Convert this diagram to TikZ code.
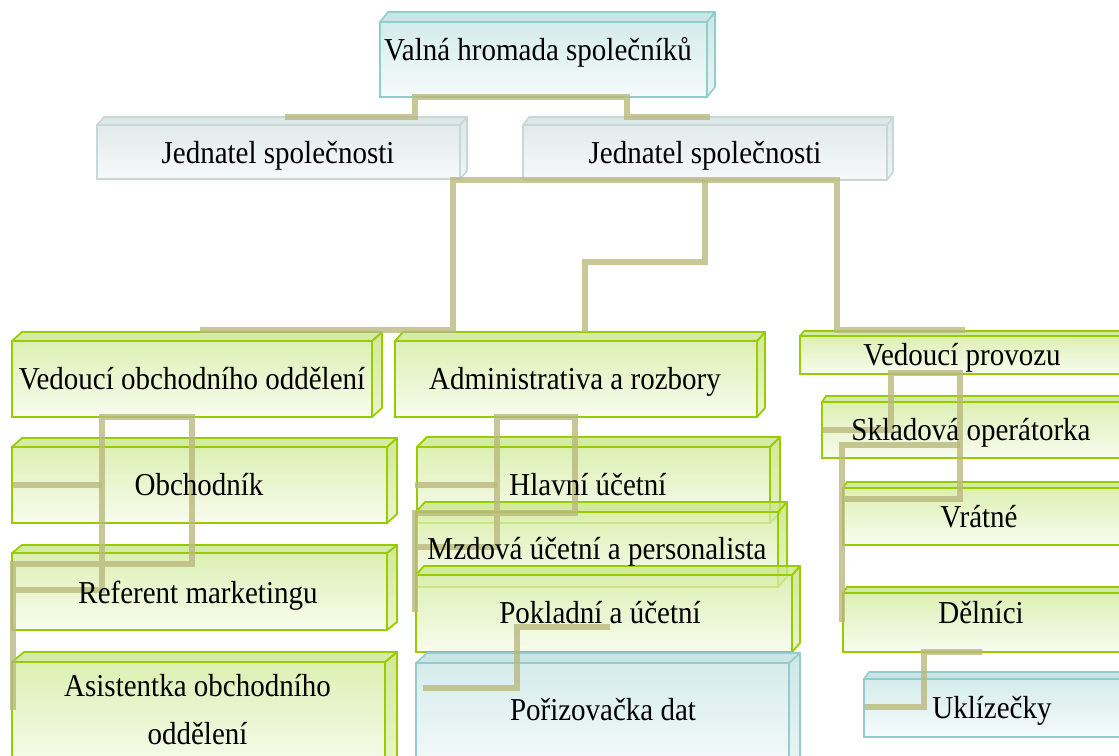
\documentclass[tikz,border=0pt]{standalone}
\usepackage{graphicx}
\usepackage{fontspec}
\setmainfont{Liberation Serif}
\usetikzlibrary{calc}
\definecolor{cgborder}{RGB}{153,204,0}
\definecolor{cgtop}{RGB}{212,235,158}
\definecolor{cgbot}{RGB}{246,251,234}
\definecolor{cgside}{RGB}{196,226,120}
\definecolor{cgsidebot}{RGB}{228,243,190}
\definecolor{cgcap}{RGB}{200,230,140}
\definecolor{cbborder}{RGB}{146,204,204}
\definecolor{cbtop}{RGB}{206,232,232}
\definecolor{cbbot}{RGB}{244,250,250}
\definecolor{cbside}{RGB}{196,226,226}
\definecolor{cbsidebot}{RGB}{232,244,244}
\definecolor{cbcap}{RGB}{192,224,224}
\definecolor{ckborder}{RGB}{200,216,216}
\definecolor{cktop}{RGB}{226,234,234}
\definecolor{ckbot}{RGB}{247,249,249}
\definecolor{ckside}{RGB}{222,230,230}
\definecolor{cksidebot}{RGB}{240,244,244}
\definecolor{ckcap}{RGB}{222,231,231}
\definecolor{cconn}{RGB}{185,185,125}
\tikzset{
  gfront/.style={draw=cgborder, line width=1.8pt, shading=axis, top color=cgtop, bottom color=cgbot, fill opacity=0.78, inner sep=0pt, outer sep=0pt},
  gside/.style={draw=cgborder, line width=1.8pt, line join=round, shading=axis, top color=cgside, bottom color=cgsidebot, fill opacity=0.78},
  gcap/.style={draw=cgborder, line width=1.8pt, line join=round, fill=cgcap, fill opacity=0.78},
  bfront/.style={draw=cbborder, line width=1.6pt, shading=axis, top color=cbtop, bottom color=cbbot, fill opacity=0.85, inner sep=0pt, outer sep=0pt},
  bside/.style={draw=cbborder, line width=1.6pt, line join=round, shading=axis, top color=cbside, bottom color=cbsidebot, fill opacity=0.85},
  bcap/.style={draw=cbborder, line width=1.6pt, line join=round, fill=cbcap, fill opacity=0.85},
  kfront/.style={draw=ckborder, line width=1.6pt, shading=axis, top color=cktop, bottom color=ckbot, inner sep=0pt, outer sep=0pt},
  kside/.style={draw=ckborder, line width=1.6pt, line join=round, shading=axis, top color=ckside, bottom color=cksidebot},
  kcap/.style={draw=ckborder, line width=1.6pt, line join=round, fill=ckcap},
  lbl/.style={anchor=base, inner sep=0pt, outer sep=0pt, font=\fontsize{29}{44}\selectfont},
  link/.style={draw=cconn, line width=5.5pt, draw opacity=0.8, line cap=butt, line join=miter}
}
\newcommand\cubebox[8]{%
  \pgfmathsetmacro\cbw{#5-#3}%
  \pgfmathsetmacro\cbh{#6-#4}%
  \node[#2front, anchor=north west, minimum width=\cbw pt, minimum height=\cbh pt] (#1) at (#3,#4) {};
  \path[#2side] (#1.north east) -- ++(#7,-#8) -- ++(0,\cbh) -- (#1.south east) -- cycle;
  \path[#2cap] (#1.north west) -- ++(#7,-#8) -- ++(\cbw,0) -- (#1.north east) -- cycle;
}
\newcommand\vs[1]{\scalebox{1}[1.1]{#1}}
\begin{document}
\begin{tikzpicture}[x=1pt,y=-1pt]
\useasboundingbox (0,0) rectangle (1119,755);
\clip (0,0) rectangle (1119,755);
% boxes
\cubebox{valna}{b}{380}{22}{707}{97}{8}{10}
\cubebox{jedA}{k}{97}{125}{460}{179}{7}{8}
\cubebox{jedB}{k}{523}{125}{887}{180}{6}{8}
\cubebox{ved}{g}{12}{341}{372}{417}{10}{9}
\cubebox{adm}{g}{395}{341}{757}{417}{8}{9}
\cubebox{prov}{g}{800}{336}{1135}{374}{4}{5}
\cubebox{obch}{g}{12}{447}{387}{523}{10}{9}
\cubebox{hlav}{g}{417}{447}{770}{523}{10}{10}
\cubebox{sklad}{g}{822}{402}{1135}{458}{4}{6}
\cubebox{vrat}{g}{843}{488}{1135}{545}{4}{6}
\cubebox{mzd}{g}{416}{512}{778}{587}{9}{10}
\cubebox{ref}{g}{12}{553}{387}{630}{10}{8}
\cubebox{pokl}{g}{416}{575}{792}{652}{8}{9}
\cubebox{deln}{g}{843}{593}{1135}{652}{4}{6}
\cubebox{asist}{g}{12}{662}{385}{770}{12}{10}
\cubebox{poriz}{b}{416}{663}{789}{770}{11}{10}
\cubebox{ukl}{b}{864}{679}{1135}{737}{5}{7}
% connectors
\path[link] (285,117) -- (415,117) -- (415,97) -- (627,97) -- (627,117) -- (710,117);
\path[link] (200,330) -- (453,330) -- (453,180) -- (837,180) -- (837,330) -- (965,330);
\path[link] (705,180) -- (705,262) -- (585,262) -- (585,332);
\path[link] (13,590) -- (102,590) -- (102,417) -- (192,417) -- (192,564) -- (13,564) -- (13,710);
\path[link] (102,485) -- (13,485);
\path[link] (415,547) -- (497,547) -- (497,417) -- (575,417) -- (575,513) -- (415,513) -- (415,612);
\path[link] (497,485) -- (415,485);
\path[link] (610,627) -- (517,627) -- (517,688) -- (423,688);
\path[link] (823,430) -- (891,430) -- (891,373) -- (960,373) -- (960,499) -- (845,499);
\path[link] (960,445) -- (842,445) -- (842,622);
\path[link] (982,652) -- (924,652) -- (924,707) -- (865,707);
% labels
\node[lbl] (valna-t) at (538,60) {\vs{Valná hromada společníků}};
\node[lbl] (jedA-t) at (278,163) {\vs{Jednatel společnosti}};
\node[lbl] (jedB-t) at (705,163) {\vs{Jednatel společnosti}};
\node[lbl] (ved-t) at (192,389) {\vs{Vedoucí obchodního oddělení}};
\node[lbl] (adm-t) at (575,389) {\vs{Administrativa a rozbory}};
\node[lbl] (prov-t) at (962,365) {\vs{Vedoucí provozu}};
\node[lbl] (sklad-t) at (971,440) {\vs{Skladová operátorka}};
\node[lbl] (obch-t) at (199,495) {\vs{Obchodník}};
\node[lbl] (ref-t) at (198,603) {\vs{Referent marketingu}};
\node[lbl] (asist-t) at (197.5,696) {\vs{\begin{tabular}[t]{@{}c@{}}Asistentka obchodního\\oddělení\end{tabular}}};
\node[lbl] (hlav-t) at (588,495) {\vs{Hlavní účetní}};
\node[lbl] (mzd-t) at (597,559) {\vs{Mzdová účetní a personalista}};
\node[lbl] (pokl-t) at (600,623) {\vs{Pokladní a účetní}};
\node[lbl] (poriz-t) at (603,720) {\vs{Pořizovačka dat}};
\node[lbl] (vrat-t) at (979,527) {\vs{Vrátné}};
\node[lbl] (deln-t) at (981,623) {\vs{Dělníci}};
\node[lbl] (ukl-t) at (992,718) {\vs{Uklízečky}};
\end{tikzpicture}
\end{document}
